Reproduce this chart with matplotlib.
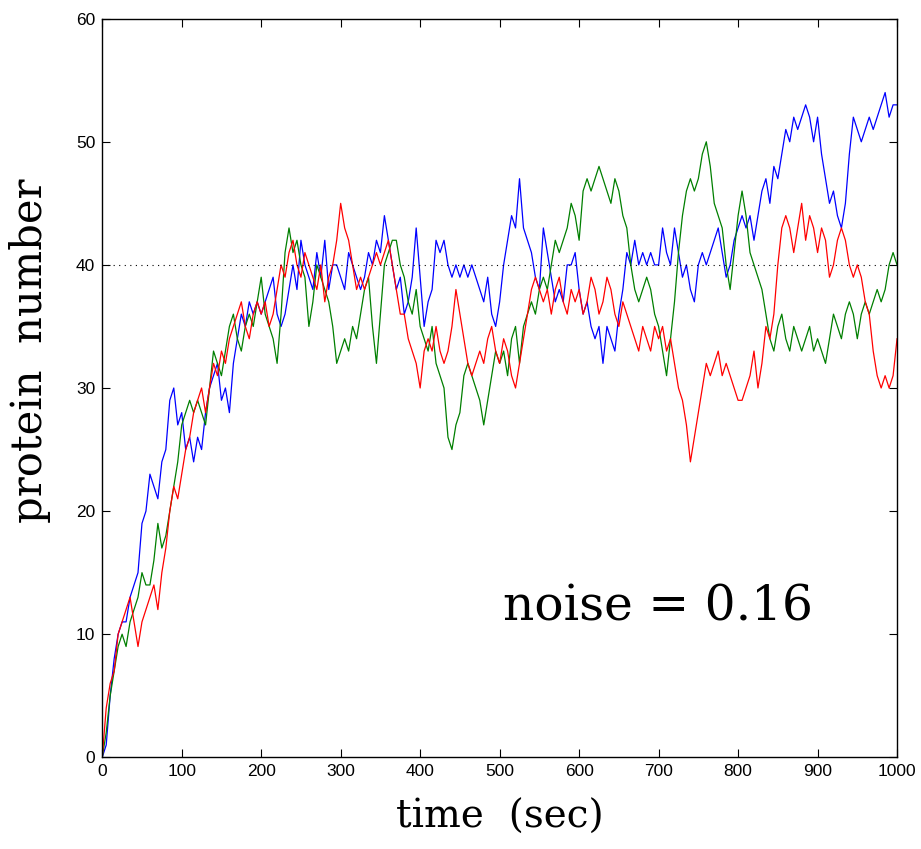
import matplotlib
matplotlib.use("Agg")
import matplotlib.pyplot as plt
import numpy as np

# time grid (sec), values every 5 s
time = np.arange(0, 1001, 5)

blue = [
    0, 1, 5, 8, 10, 11, 11, 13, 14, 15, 19, 20, 23, 22, 21, 24, 25, 29, 30, 27,
    28, 25, 26, 24, 26, 25, 28, 30, 31, 32, 29, 30, 28, 32, 34, 36, 35, 37, 36, 37,
    36, 37, 38, 39, 36, 35, 36, 38, 40, 38, 42, 40, 39, 38, 41, 39, 42, 38, 40, 40,
    39, 38, 41, 40, 39, 38, 39, 41, 40, 42, 41, 44, 42, 40, 38, 39, 36, 37, 39, 43,
    39, 35, 37, 38, 42, 41, 42, 40, 39, 40, 39, 40, 39, 40, 39, 38, 37, 39, 36, 35,
    37, 40, 42, 44, 43, 47, 43, 42, 41, 39, 38, 43, 41, 39, 37, 38, 37, 40, 40, 41,
    38, 36, 37, 35, 34, 35, 32, 35, 34, 33, 36, 38, 41, 40, 42, 40, 41, 40, 41, 40,
    40, 43, 41, 40, 43, 41, 39, 40, 38, 37, 40, 41, 40, 41, 42, 43, 41, 39, 40, 42,
    43, 44, 43, 44, 42, 44, 46, 47, 45, 48, 47, 49, 51, 50, 52, 51, 52, 53, 52, 50,
    52, 49, 47, 45, 46, 44, 43, 45, 49, 52, 51, 50, 51, 52, 51, 52, 53, 54, 52, 53,
    53,
]

green = [
    0, 2, 5, 7, 9, 10, 9, 11, 12, 13, 15, 14, 14, 16, 19, 17, 18, 20, 22, 24,
    27, 28, 29, 28, 29, 28, 27, 30, 33, 32, 31, 33, 35, 36, 34, 33, 35, 36, 35, 37,
    39, 36, 35, 34, 32, 36, 41, 43, 41, 42, 40, 39, 35, 37, 40, 39, 38, 37, 35, 32,
    33, 34, 33, 35, 34, 36, 38, 39, 35, 32, 36, 40, 41, 42, 42, 40, 39, 37, 36, 38,
    35, 34, 33, 35, 32, 31, 30, 26, 25, 27, 28, 31, 32, 31, 30, 29, 27, 29, 31, 33,
    32, 33, 31, 34, 35, 32, 35, 36, 37, 36, 38, 39, 38, 40, 42, 41, 42, 43, 45, 44,
    42, 46, 47, 46, 47, 48, 47, 46, 45, 47, 46, 44, 43, 40, 38, 37, 38, 39, 38, 36,
    35, 33, 31, 34, 37, 41, 44, 46, 47, 46, 47, 49, 50, 48, 45, 44, 43, 40, 38, 41,
    44, 46, 44, 41, 40, 39, 38, 36, 34, 33, 35, 36, 34, 33, 35, 34, 33, 34, 35, 33,
    34, 33, 32, 34, 36, 35, 34, 36, 37, 36, 34, 36, 37, 36, 37, 38, 37, 38, 40, 41,
    40,
]

red = [
    0, 4, 6, 7, 10, 11, 12, 13, 11, 9, 11, 12, 13, 14, 12, 15, 17, 20, 22, 21,
    23, 25, 26, 28, 29, 30, 28, 30, 32, 31, 33, 32, 34, 35, 36, 37, 35, 34, 36, 37,
    36, 37, 35, 36, 38, 40, 39, 41, 42, 40, 39, 41, 40, 39, 38, 40, 37, 39, 40, 42,
    45, 43, 42, 40, 38, 39, 38, 39, 40, 41, 40, 41, 42, 40, 38, 36, 36, 34, 33, 32,
    30, 33, 34, 33, 35, 33, 32, 33, 35, 38, 36, 34, 32, 31, 32, 33, 32, 34, 35, 33,
    32, 34, 33, 31, 30, 32, 34, 36, 38, 39, 38, 37, 38, 36, 38, 39, 37, 36, 38, 37,
    38, 36, 37, 39, 38, 36, 37, 39, 38, 36, 35, 37, 36, 35, 34, 33, 35, 34, 33, 35,
    34, 35, 33, 34, 32, 30, 29, 27, 24, 26, 28, 30, 32, 31, 32, 33, 31, 32, 31, 30,
    29, 29, 30, 31, 33, 30, 32, 35, 34, 36, 40, 43, 44, 43, 41, 43, 45, 42, 44, 43,
    41, 43, 42, 39, 40, 42, 43, 42, 40, 39, 40, 39, 37, 36, 33, 31, 30, 31, 30, 31,
    34,
]

steady_state = 40
xticks = [0, 100, 200, 300, 400, 500, 600, 700, 800, 900, 1000]
yticks = [0, 10, 20, 30, 40, 50, 60]

fig = plt.figure(figsize=(9.21, 8.49), dpi=100)
ax = fig.add_axes([0.111, 0.108, 0.863, 0.87])

ax.plot(time, blue, color="#0000ff", lw=0.9)
ax.plot(time, green, color="#007f00", lw=0.9)
ax.plot(time, red, color="#ff0000", lw=0.9)
ax.axhline(steady_state, color="black", lw=0.8, ls=(0, (1, 4)))

ax.set_xlim(0, 1000)
ax.set_ylim(0, 60)
ax.set_xticks(xticks)
ax.set_yticks(yticks)
ax.tick_params(direction="in", top=True, right=True, length=6, width=0.8,
               labelsize=12.5, pad=5)
for lab in ax.get_xticklabels() + ax.get_yticklabels():
    lab.set_family("Liberation Sans")
for s in ax.spines.values():
    s.set_linewidth(1.0)

ax.set_xlabel("time  (sec)", family="DejaVu Serif", fontsize=28, labelpad=14)
ax.set_ylabel("protein  number", family="DejaVu Serif", fontsize=30)
ax.yaxis.set_label_coords(-0.065, 0.55)
ax.text(0.504, 0.203, "noise = 0.16", transform=ax.transAxes,
        family="DejaVu Serif", fontsize=35, ha="left", va="center")

fig.savefig("out.png", dpi=100)
